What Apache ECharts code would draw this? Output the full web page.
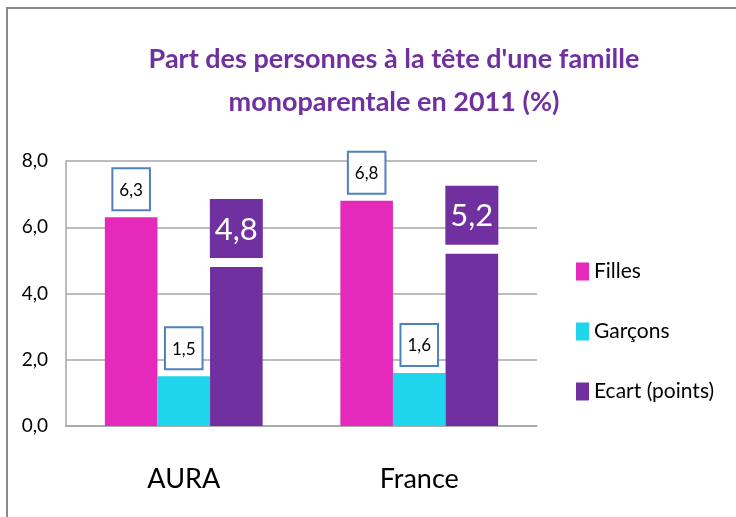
<!DOCTYPE html>
<html>
<head>
<meta charset="utf-8">
<script src="https://cdn.jsdelivr.net/npm/echarts@6/dist/echarts.min.js"></script>
<style>
  html, body { margin: 0; padding: 0; background: #fff; }
  #chart { width: 736px; height: 517px; }
</style>
</head>
<body>
<div id="chart"></div>
<script>
// données
const categories = ['AURA', 'France'];
const filles = [6.3, 6.8];
const garcons = [1.5, 1.6];
const ecart = [4.8, 5.2];
const yTicks = { min: 0, max: 8, interval: 2 };

const FONT = 'Lato';
const virgule = v => v.toFixed(1).replace('.', ',');

const boxLabel = {
    show: true,
    position: 'top',
    distance: 8,
    formatter: p => virgule(p.value),
    fontFamily: FONT,
    fontSize: 17,
    color: '#000',
    backgroundColor: '#fff',
    borderColor: '#4f81bd',
    borderWidth: 2,
    padding: [11, 6, 9, 6],
    lineHeight: 20
};

const chart = echarts.init(document.getElementById('chart'));
chart.setOption({
    animation: false,
    textStyle: { fontFamily: FONT },
    title: {
        text: "Part des personnes à la tête d'une famille\nmonoparentale en 2011 (%)",
        left: 389,
        top: 33,
        textAlign: 'center',
        textStyle: {
            fontFamily: FONT,
            fontSize: 27,
            fontWeight: 'bold',
            color: '#7030a0',
            lineHeight: 43
        }
    },
    graphic: [{
        type: 'polyline',
        shape: { points: [[7, 517], [7, 8], [736, 8]] },
        style: { stroke: '#8c8c8c', lineWidth: 2, fill: null }
    }],
    legend: {
        orient: 'vertical',
        left: 571,
        top: 256,
        itemWidth: 13,
        itemHeight: 18,
        itemGap: 39,
        icon: 'rect',
        textStyle: { fontFamily: FONT, fontSize: 21, color: '#000', lineHeight: 18 },
        data: ['Filles', 'Garçons', 'Ecart (points)']
    },
    grid: { left: 66, right: 199, top: 161, bottom: 91 },
    xAxis: {
        type: 'category',
        data: categories,
        axisLine: { show: true, lineStyle: { color: '#a6a6a6', width: 1.5 } },
        axisTick: { show: false },
        axisLabel: { fontFamily: FONT, fontSize: 27, color: '#000', margin: 40 }
    },
    yAxis: {
        type: 'value',
        min: yTicks.min,
        max: yTicks.max,
        interval: yTicks.interval,
        axisLine: { show: true, lineStyle: { color: '#a6a6a6', width: 1.5 } },
        axisTick: { show: false },
        splitLine: { lineStyle: { color: '#a6a6a6', width: 1.5 } },
        axisLabel: { fontFamily: FONT, fontSize: 19, color: '#000', margin: 18, formatter: v => virgule(v) }
    },
    series: [
        {
            name: 'Filles', type: 'bar', data: filles,
            itemStyle: { color: '#e529bb' },
            barGap: '0%', barCategoryGap: '33%',
            label: boxLabel
        },
        {
            name: 'Garçons', type: 'bar', data: garcons,
            itemStyle: { color: '#1fd5eb' },
            label: boxLabel
        },
        {
            name: 'Ecart (points)', type: 'bar', data: ecart,
            itemStyle: { color: '#7030a0' },
            label: {
                show: true,
                position: 'top',
                distance: 9,
                formatter: p => virgule(p.value),
                fontFamily: FONT,
                fontSize: 31,
                color: '#fff',
                backgroundColor: '#7030a0',
                padding: [13, 5, 11, 5],
                lineHeight: 35
            }
        }
    ]
});
</script>
</body>
</html>
